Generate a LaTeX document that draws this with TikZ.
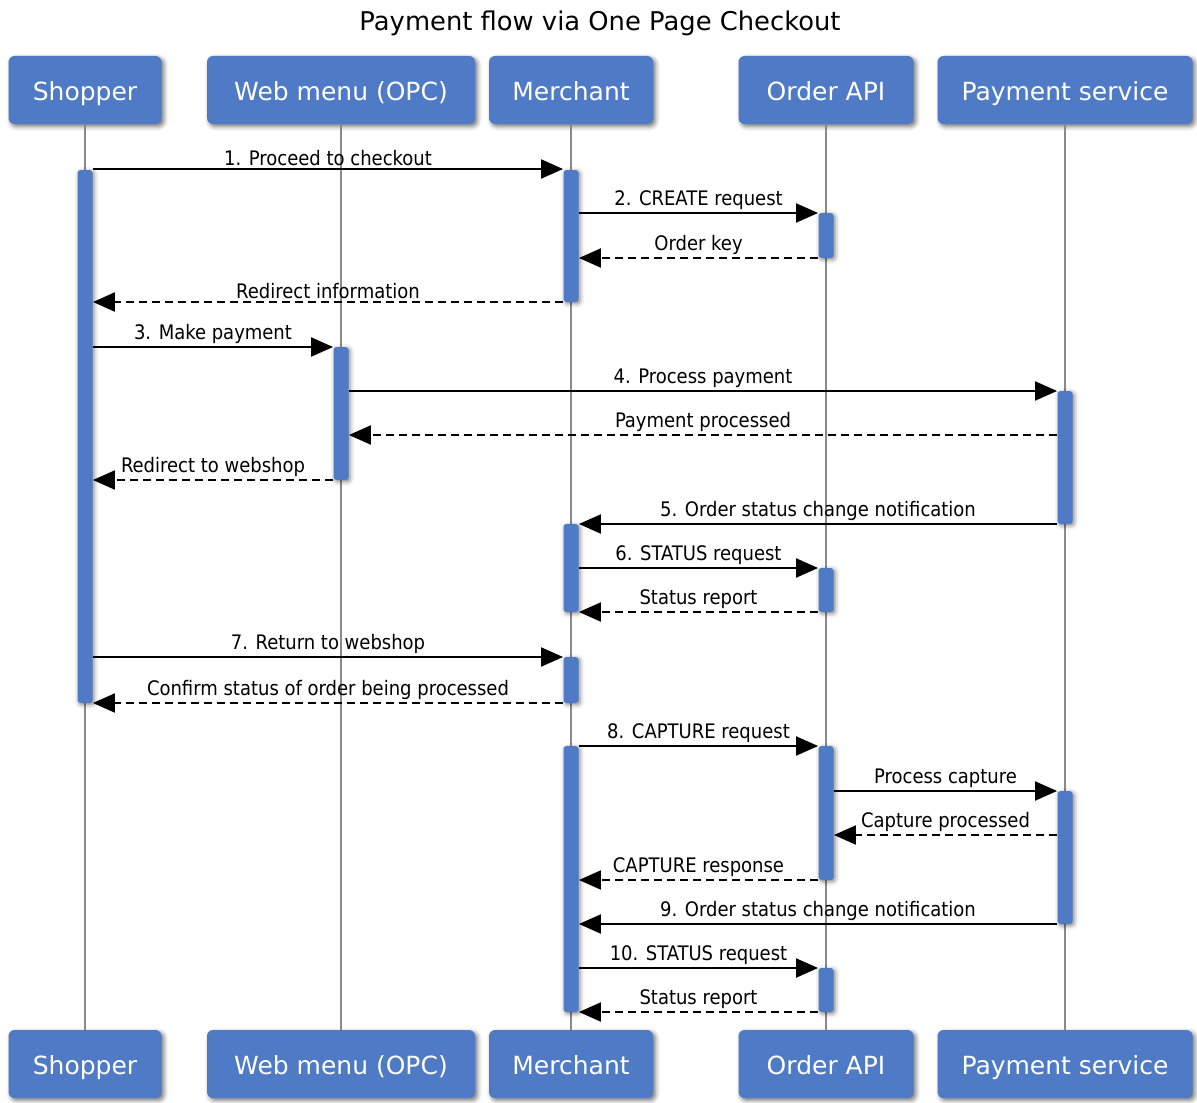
\documentclass[tikz,border=0pt]{standalone}
\usepackage{fontspec}
\setmainfont{DejaVu Sans}
\newfontfamily\condfont{DejaVu Sans Condensed}
\usetikzlibrary{arrows.meta,shadows.blur}
\definecolor{boxblue}{HTML}{4F7AC6}
\definecolor{linegray}{HTML}{8A8A8A}
\tikzset{%
  actor/.style={
    rectangle,
    rounded corners=3pt,
    fill=boxblue,
    text=white,
    font=\fontsize{12.5}{15}\selectfont,
    minimum height=34pt,
    text height=11pt,
    text depth=1pt,
    blur shadow={shadow xshift=1.2pt, shadow yshift=-1.2pt,
      shadow blur steps=4, shadow opacity=55}
  },
  act/.style={
    rectangle,
    rounded corners=1.5pt,
    fill=boxblue,
    minimum width=7.5pt,
    inner sep=0pt,
    blur shadow={shadow xshift=0.8pt, shadow yshift=-0.8pt,
      shadow blur steps=3, shadow opacity=50}
  },
  lifeline/.style={draw=linegray, line width=1pt},
  call/.style={line width=1pt, -{Triangle[length=11pt,width=9.5pt]}},
  reply/.style={call, dash pattern=on 4pt off 2.5pt},
  msgtext/.style={font=\condfont\fontsize{10}{12}\selectfont, above=0pt, inner sep=1pt},
}

\begin{document}
\begin{tikzpicture}[x=0.5pt, y=-0.5pt]
\useasboundingbox (0,0) rectangle (1197,1102);
\node[font=\fontsize{12.9}{15}\selectfont] (title) at (600,23) {Payment flow via One Page Checkout};
% participants and lifelines
\foreach \nm/\x/\w/\t in {shop/85/153/Shopper, web/341/268/Web menu (OPC), mer/571/164/Merchant,
                          api/826/175/Order API, pay/1065/255/Payment service}
    {\node[actor, minimum width=\w*0.5pt] (\nm-top) at (\x,90) {\t};
     \node[actor, minimum width=\w*0.5pt] (\nm-bot) at (\x,1064) {\t};
     \draw[lifeline] (\nm-top) -- (\nm-bot);}
% activation bars
\foreach \nm/\x/\ya/\yb in {shopA/85/170/703, merA/571/170/302, apiA/826/213/258, webA/341/347/480,
                            payA/1065/391/524, merB/571/524/612, apiB/826/568/612, merC/571/657/703,
                            merD/571/746/1012, apiC/826/746/880, payB/1065/791/924, apiD/826/968/1012}
    \node[act, minimum height={(\yb-\ya)*0.5pt}] (\nm) at (\x,{(\ya+\yb)/2}) {};
% messages
\foreach \a/\b/\y/\s/\t in {
    shopA.east/merA.west/169/call/{1. Proceed to checkout},
    merA.east/apiA.west/213/call/{2. CREATE request},
    apiA.west/merA.east/258/reply/{Order key},
    merA.west/shopA.east/302/reply/{Redirect information},
    shopA.east/webA.west/347/call/{3. Make payment},
    webA.east/payA.west/391/call/{4. Process payment},
    payA.west/webA.east/435/reply/{Payment processed},
    webA.west/shopA.east/480/reply/{Redirect to webshop},
    payA.west/merB.east/524/call/{5. Order status change notification},
    merB.east/apiB.west/568/call/{6. STATUS request},
    apiB.west/merB.east/612/reply/{Status report},
    shopA.east/merC.west/657/call/{7. Return to webshop},
    merC.west/shopA.east/703/reply/{Confirm status of order being processed},
    merD.east/apiC.west/746/call/{8. CAPTURE request},
    apiC.east/payB.west/791/call/{Process capture},
    payB.west/apiC.east/835/reply/{Capture processed},
    apiC.west/merD.east/880/reply/{CAPTURE response},
    payB.west/merD.east/924/call/{9. Order status change notification},
    merD.east/apiD.west/968/call/{10. STATUS request},
    apiD.west/merD.east/1012/reply/{Status report}}
    \draw[\s] (\a |- 0,\y) -- (\b |- 0,\y) node[msgtext, midway] {\t};
\end{tikzpicture}
\end{document}
